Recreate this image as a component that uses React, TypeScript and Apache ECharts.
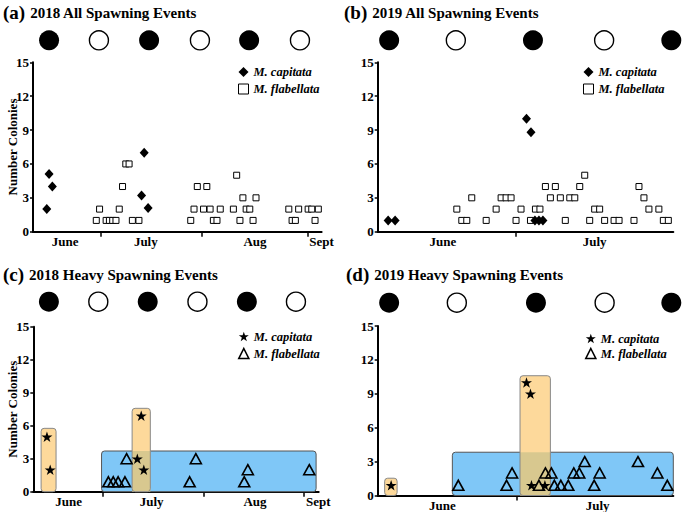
import React, { useEffect, useRef } from 'react';
import * as echarts from 'echarts';

const FONT = '"Liberation Serif", "Times New Roman", serif';

// ---------- Data (x = day of season, y = number of colonies) ----------
// Panel (a) 2018 all spawning events
const aCapitata = [[4.2, 2], [4.9, 5.1], [5.9, 4], [33.1, 3.2], [33.9, 7], [35.1, 2.1]];
const aFlabellata = [
  [19.3, 1], [20.3, 2], [22.3, 1], [23.3, 1], [24.3, 1], [25.3, 1], [26.3, 2], [27.3, 4], [28.3, 6], [29.3, 6],
  [30.3, 1], [32.3, 1], [48.1, 1], [49.1, 2], [50.1, 4], [52, 2], [53, 4], [54, 2], [55, 1], [56.1, 1], [57.1, 2],
  [61.1, 2], [62.1, 5], [63.1, 1], [64, 3], [65, 2], [66.1, 2], [67.1, 1], [68, 3], [78, 2], [79, 1], [80, 1],
  [81, 2], [83.9, 2], [85, 2], [86, 1], [87, 2],
];
// Panel (b) 2019 all spawning events
const bCapitata = [[2.1, 1], [3.5, 1], [29.9, 10], [30.8, 8.8], [31.6, 1], [32.4, 1], [33.2, 1]];
const bFlabellata = [
  [15.9, 2], [16.9, 1], [17.9, 1], [18.9, 3], [21.8, 1], [23.8, 2], [24.8, 3], [25.8, 3], [26.8, 3], [27.8, 1],
  [28.8, 2], [30.7, 1], [31.7, 2], [32.6, 2], [33.7, 4], [34.7, 3], [35.7, 4], [36.7, 3], [37.7, 1], [38.6, 3],
  [39.6, 3], [40.6, 4], [41.6, 5], [42.6, 1], [43.6, 2], [44.6, 2], [45.6, 1], [47.5, 1], [48.5, 1], [51.5, 1],
  [52.5, 4], [53.5, 3], [54.5, 2], [56.5, 2], [57.4, 1], [58.4, 1],
];
// Panel (c) 2018 heavy spawning events
const cCapitata = [[4.2, 5], [5.2, 2], [32, 3], [33.2, 6.9], [34, 2]];
const cFlabellata = [
  [23.1, 0.9], [24.6, 0.9], [26.1, 0.9], [28.2, 0.9], [28.7, 3], [48.1, 0.9], [50, 3], [64.9, 0.9], [66, 2], [84.9, 2],
];
const cCapitataBands = [[2.4, 7, 5.76], [30.4, 36, 7.58]];
const cFlabellataBands = [[21, 87, 3.7]];
// Panel (d) 2019 heavy spawning events
const dCapitata = [[2.7, 0.9], [29.9, 10], [30.7, 9], [30.9, 0.9], [33.6, 0.9]];
const dFlabellata = [
  [16.2, 0.9], [25.9, 0.9], [27, 2], [32.4, 0.9], [33.7, 2], [34.9, 2], [35.5, 0.9], [36.8, 0.9], [38.3, 0.9],
  [39.4, 2], [40.5, 2], [41.6, 3], [43.5, 0.9], [44.6, 2], [52.3, 3], [56.2, 2], [58.2, 0.9],
];
const dCapitataBands = [[1.4, 3.9, 1.53], [28.6, 34.7, 10.6]];
const dFlabellataBands = [[15, 59.4, 3.83]];

// Moon phases (filled = new moon, open = full moon)
const aMoonNew = [4.9, 35.4, 65.9];
const aMoonFull = [20.1, 50.9, 81.4];
const bMoonNew = [2.3, 31.2, 59.0];
const bMoonFull = [15.7, 45.5];
const cMoonNew = [4.8, 35.2, 65.7];
const cMoonFull = [20.0, 50.5, 80.8];
const dMoonNew = [2.3, 31.8, 59.0];
const dMoonFull = [15.9, 45.6];

// Axis ticks: month boundaries and month label positions
const months2018 = ['June', 'July', 'Aug', 'Sept'];
const months2019 = ['June', 'July'];
const aMonthTicks = [20.7, 51.5, 83.8];
const aMonthLabels = [9.8, 34.4, 67.7, 88];
const cMonthTicks = [21.5, 52.3, 83.3];
const cMonthLabels = [10.9, 36.4, 68.2, 87.7];
const bMonthTicks = [27.7];
const bMonthLabels = [13.1, 43.6];
const dMonthTicks = [27.9];
const dMonthLabels = [13.0, 44.2];
const yTicks = [0, 3, 6, 9, 12, 15];

const STAR = 'path://M12,0.5 L14.8,8.7 L23.5,8.7 L16.5,13.9 L19.1,22.3 L12,17.2 L4.9,22.3 L7.5,13.9 L0.5,8.7 L9.2,8.7 Z';
const ORANGE = '#fdd99b';
const BLUE = '#7fc7f7';
const OVERLAP = '#d8c88f';

export default function App() {
  const ref = useRef<HTMLDivElement>(null);

  useEffect(() => {
    if (!ref.current) return;
    const chart = echarts.init(ref.current, undefined, { renderer: 'svg' });

    const panels = [
      { key: 'a', left: 33, top: 62.3, width: 288.6, height: 169.4, max: 88, moonTop: 30.3,
        ticks: aMonthTicks, labels: aMonthLabels, names: months2018, yName: true },
      { key: 'b', left: 377.7, top: 62.3, width: 295.6, height: 169.4, max: 59.4, moonTop: 30.3,
        ticks: bMonthTicks, labels: bMonthLabels, names: months2019, yName: false },
      { key: 'c', left: 33.3, top: 326.7, width: 285.4, height: 165, max: 87.8, moonTop: 291.7,
        ticks: cMonthTicks, labels: cMonthLabels, names: months2018, yName: true },
      { key: 'd', left: 377.7, top: 326, width: 295.6, height: 169.5, max: 59.4, moonTop: 292.7,
        ticks: dMonthTicks, labels: dMonthLabels, names: months2019, yName: false },
    ];

    const grids: any[] = [];
    const xAxes: any[] = [];
    const yAxes: any[] = [];
    panels.forEach((p) => {
      grids.push({ left: p.left, top: p.top, width: p.width, height: p.height, outerBoundsMode: 'none' });
      grids.push({ left: p.left, top: p.moonTop, width: p.width, height: 20, outerBoundsMode: 'none' });
    });
    panels.forEach((p, i) => {
      xAxes.push({
        type: 'value', gridIndex: i * 2, min: 0, max: p.max,
        axisLine: { show: true, onZero: false, lineStyle: { color: '#000', width: 2 } },
        axisTick: { show: true, customValues: p.ticks, length: 5, lineStyle: { color: '#000', width: 1.5 } },
        axisLabel: {
          show: true, customValues: p.labels, margin: 3,
          formatter: (v: number) => {
            let best = 0;
            p.labels.forEach((l, k) => { if (Math.abs(l - v) < Math.abs(p.labels[best] - v)) best = k; });
            return p.names[best];
          },
          fontFamily: FONT, fontWeight: 'bold', fontSize: 13, color: '#000',
        },
        splitLine: { show: false },
      });
      xAxes.push({ type: 'value', gridIndex: i * 2 + 1, min: 0, max: p.max, show: false });
      yAxes.push({
        type: 'value', gridIndex: i * 2, min: 0, max: 15, interval: 3,
        name: p.yName ? 'Number Colonies' : '', nameLocation: 'middle', nameGap: 14, nameRotate: 90,
        nameMoveOverlap: false,
        nameTextStyle: { fontFamily: FONT, fontWeight: 'bold', fontSize: 13, color: '#000' },
        axisLine: { show: true, lineStyle: { color: '#000', width: 2 } },
        axisTick: { show: true, length: 3, lineStyle: { color: '#000', width: 1.5 } },
        axisLabel: { margin: 4, fontFamily: FONT, fontWeight: 'bold', fontSize: 13, color: '#000',
          formatter: (v: number) => (yTicks.includes(v) ? String(v) : '') },
        splitLine: { show: false },
      });
      yAxes.push({ type: 'value', gridIndex: i * 2 + 1, min: 0, max: 1, show: false });
    });

    const bandSeries = (data: number[][], idx: number, fill: string, stroke: string, overlapWith?: number[][]) => ({
      type: 'custom', xAxisIndex: idx, yAxisIndex: idx, silent: true,
      encode: { x: [0, 1], y: 2 },
      data,
      renderItem: (params: any, api: any) => {
        const x0 = api.value(0), x1 = api.value(1), top = api.value(2);
        const p0 = api.coord([x0, top]);
        const p1 = api.coord([x1, 0]);
        const children: any[] = [{
          type: 'rect',
          shape: { x: p0[0], y: p0[1], width: p1[0] - p0[0], height: p1[1] - p0[1], r: 3 },
          style: { fill, stroke: 'none' },
        }];
        (overlapWith || []).forEach((b) => {
          const ox0 = Math.max(x0, b[0]), ox1 = Math.min(x1, b[1]);
          if (ox1 > ox0) {
            const q0 = api.coord([ox0, Math.min(top, b[2])]);
            const q1 = api.coord([ox1, 0]);
            children.push({
              type: 'rect',
              shape: { x: q0[0], y: q0[1], width: q1[0] - q0[0], height: q1[1] - q0[1] },
              style: { fill: OVERLAP, stroke: 'none' },
            });
          }
        });
        children.push({
          type: 'rect',
          shape: { x: p0[0], y: p0[1], width: p1[0] - p0[0], height: p1[1] - p0[1], r: 3 },
          style: { fill: 'none', stroke, lineWidth: 1 },
        });
        return { type: 'group', children };
      },
    });

    const diamond = (data: number[][], idx: number) => ({
      name: 'M. capitata', type: 'scatter', xAxisIndex: idx, yAxisIndex: idx, data,
      symbol: 'diamond', symbolSize: [9, 10], itemStyle: { color: '#000', opacity: 1 }, clip: false,
    });
    const square = (data: number[][], idx: number) => ({
      name: 'M. flabellata', type: 'scatter', xAxisIndex: idx, yAxisIndex: idx, data,
      symbol: 'rect', symbolSize: 6, itemStyle: { color: '#fff', borderColor: '#000', borderWidth: 1, opacity: 1 }, clip: false,
    });
    const star = (data: number[][], idx: number) => ({
      name: 'M. capitata', type: 'scatter', xAxisIndex: idx, yAxisIndex: idx, data,
      symbol: STAR, symbolKeepAspect: true, symbolSize: 11, itemStyle: { color: '#000', opacity: 1 }, clip: false,
    });
    const triangle = (data: number[][], idx: number) => ({
      name: 'M. flabellata', type: 'scatter', xAxisIndex: idx, yAxisIndex: idx, data,
      symbol: 'triangle', symbolSize: [11, 10],
      itemStyle: { color: 'rgba(0,0,0,0)', borderColor: '#000', borderWidth: 1.6, opacity: 1 }, clip: false,
    });
    const moons = (nw: number[], full: number[], idx: number) => [
      { type: 'scatter', xAxisIndex: idx, yAxisIndex: idx, data: nw.map((d) => [d, 0.5]), symbol: 'circle',
        symbolSize: 20, itemStyle: { color: '#000', opacity: 1 }, clip: false, silent: true },
      { type: 'scatter', xAxisIndex: idx, yAxisIndex: idx, data: full.map((d) => [d, 0.5]), symbol: 'circle',
        symbolSize: 19, itemStyle: { color: '#fff', borderColor: '#000', borderWidth: 1.4, opacity: 1 }, clip: false, silent: true },
    ];

    const series: any[] = [
      ...moons(aMoonNew, aMoonFull, 1),
      ...moons(bMoonNew, bMoonFull, 3),
      ...moons(cMoonNew, cMoonFull, 5),
      ...moons(dMoonNew, dMoonFull, 7),
      diamond(aCapitata, 0), square(aFlabellata, 0),
      square(bFlabellata, 2), diamond(bCapitata, 2),
      bandSeries(cFlabellataBands, 4, BLUE, '#555'),
      bandSeries(cCapitataBands, 4, ORANGE, '#888', cFlabellataBands),
      triangle(cFlabellata, 4), star(cCapitata, 4),
      bandSeries(dFlabellataBands, 6, BLUE, '#555'),
      bandSeries(dCapitataBands, 6, ORANGE, '#888', dFlabellataBands),
      triangle(dFlabellata, 6), star(dCapitata, 6),
    ];

    const legendText = { fontFamily: FONT, fontStyle: 'italic', fontWeight: 'bold', fontSize: 12.5, color: '#000' };
    const diamondItems = [
      { name: 'M. capitata', icon: 'diamond', itemStyle: { color: '#000', borderWidth: 0 } },
      { name: 'M. flabellata', icon: 'rect', itemStyle: { color: '#fff', borderColor: '#000', borderWidth: 1 } },
    ];
    const starItems = [
      { name: 'M. capitata', icon: STAR, itemStyle: { color: '#000', borderWidth: 0 } },
      { name: 'M. flabellata', icon: 'triangle', itemStyle: { color: 'rgba(0,0,0,0)', borderColor: '#000', borderWidth: 1.6 } },
    ];
    const legend = (left: number, top: number, data: any[], gap: number) => ({
      left, top, orient: 'vertical', itemGap: gap, itemWidth: 10, itemHeight: 10, selectedMode: false,
      textStyle: legendText, data, padding: 0,
    });

    const title = (tag: string, text: string, left: number, top: number) => ({
      left, top, padding: 0,
      text: `{p|(${tag})} {t|${text}}`,
      textStyle: {
        rich: {
          p: { fontFamily: FONT, fontWeight: 'bold', fontSize: 19, color: '#000' },
          t: { fontFamily: FONT, fontWeight: 'bold', fontSize: 15, color: '#000' },
        },
      },
    });

    chart.setOption({
      animation: false,
      backgroundColor: '#fff',
      title: [
        title('a', '2018 All Spawning Events', 3, 3),
        title('b', '2019 All Spawning Events', 344, 3),
        title('c', '2018 Heavy Spawning Events', 3, 265),
        title('d', '2019 Heavy Spawning Events', 346, 265),
      ],
      legend: [
        legend(238, 65.5, diamondItems, 4),
        legend(583, 65.5, diamondItems, 4),
        legend(238, 330, starItems, 4),
        legend(585, 332, starItems, 2),
      ],
      grid: grids,
      xAxis: xAxes,
      yAxis: yAxes,
      series,
    });

    return () => chart.dispose();
  }, []);

  return <div ref={ref} style={{ position: 'absolute', left: 0, top: 0, width: 685, height: 512 }} />;
}
